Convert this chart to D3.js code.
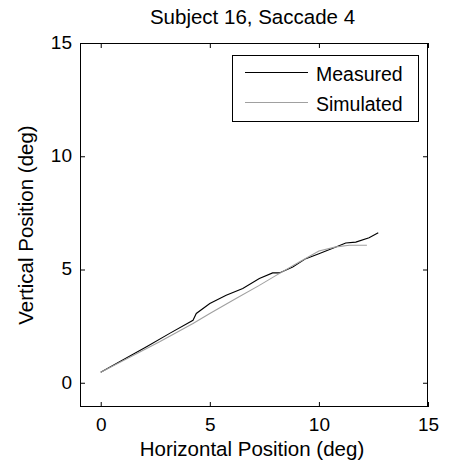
<!DOCTYPE html>
<html><head><meta charset="utf-8">
<script src="https://cdn.jsdelivr.net/npm/d3@7"></script>
<style>body{margin:0;background:#fff}svg{display:block}text{font-family:Arial,"Liberation Sans",Helvetica,sans-serif;}</style>
</head><body><svg id="c" width="452" height="468"></svg>
<script>
const title = "Subject 16, Saccade 4";
const xLabel = "Horizontal Position (deg)";
const yLabel = "Vertical Position (deg)";
const xTicks = [0, 5, 10, 15];
const yTicks = [0, 5, 10, 15];
const seriesNames = ["Measured", "Simulated"];
const measuredX = [0, 2.1, 3.16, 4.23, 4.38, 5.0, 5.75, 6.51, 7.27, 7.88, 8.19, 8.8, 9.4, 10.0, 10.78, 11.23, 11.69, 12.3, 12.72];
const measuredY = [0.46, 1.59, 2.18, 2.76, 3.06, 3.5, 3.86, 4.16, 4.6, 4.85, 4.85, 5.11, 5.48, 5.7, 5.99, 6.17, 6.21, 6.4, 6.62];
const simulatedX = [0, 2.7, 4.23, 5.0, 6.2, 7.27, 8.04, 9.1, 10.0, 10.78, 11.4, 12.2];
const simulatedY = [0.46, 1.81, 2.62, 3.06, 3.72, 4.3, 4.74, 5.33, 5.82, 6.0, 6.07, 6.07];

const svg = d3.select("#c");
const L = 80, R = 428, T = 43, B = 407;
const x = d3.scaleLinear().domain([-0.95, 15]).range([L, R]);
const y = d3.scaleLinear().domain([-1.07, 15]).range([B, T]);

const tl = 5;
const fs = 19;
svg.append("g").attr("transform", `translate(0,${B})`)
  .call(d3.axisBottom(x).tickValues(xTicks).tickSizeInner(-tl).tickSizeOuter(0).tickPadding(11))
  .call(g => { g.select(".domain").remove(); g.selectAll("text").attr("font-size", fs).attr("fill", "#000").attr("font-family", "Arial, Liberation Sans, sans-serif"); });
svg.append("g").attr("transform", `translate(0,${T})`)
  .call(d3.axisTop(x).tickValues(xTicks).tickSizeInner(-tl).tickSizeOuter(0).tickFormat(""))
  .call(g => g.select(".domain").remove());
svg.append("g").attr("transform", `translate(${L},0)`)
  .call(d3.axisLeft(y).tickValues(yTicks).tickSizeInner(-tl).tickSizeOuter(0).tickPadding(8))
  .call(g => { g.select(".domain").remove(); g.selectAll("text").attr("font-size", fs).attr("fill", "#000").attr("dy", "0.28em").attr("font-family", "Arial, Liberation Sans, sans-serif"); });
svg.append("g").attr("transform", `translate(${R},0)`)
  .call(d3.axisRight(y).tickValues(yTicks).tickSizeInner(-tl).tickSizeOuter(0).tickFormat(""))
  .call(g => g.select(".domain").remove());
svg.selectAll(".tick line").attr("stroke", "#000");

svg.append("rect").attr("x", L + 0.5).attr("y", T + 0.5).attr("width", R - L - 1).attr("height", B - T - 1)
  .attr("fill", "none").attr("stroke", "#000").attr("stroke-width", 1);

const line = d3.line().x(d => x(d[0])).y(d => y(d[1]));
const meas = measuredX.map((v, i) => [v, measuredY[i]]);
const sim = simulatedX.map((v, i) => [v, simulatedY[i]]);
svg.append("path").attr("d", line(meas)).attr("fill", "none").attr("stroke", "#000").attr("stroke-width", 1.1);
svg.append("path").attr("d", line(sim)).attr("fill", "none").attr("stroke", "#a0a0a0").attr("stroke-width", 1.1);

// title and labels
svg.append("text").attr("x", 252.5).attr("y", 24).attr("text-anchor", "middle").attr("font-size", 20.5).text(title);
svg.append("text").attr("x", 252).attr("y", 456).attr("text-anchor", "middle").attr("font-size", 20.5).text(xLabel);
svg.append("text").attr("transform", `translate(33,${(T + B) / 2}) rotate(-90)`).attr("text-anchor", "middle").attr("font-size", 20.5).text(yLabel);

// legend
const lg = svg.append("g");
lg.append("rect").attr("x", 232.5).attr("y", 55.5).attr("width", 186).attr("height", 66).attr("fill", "#fff").attr("stroke", "#000");
const colors = ["#000", "#a0a0a0"];
seriesNames.forEach((n, i) => {
  const yy = 72.5 + i * 30;
  lg.append("line").attr("x1", 245).attr("x2", 308).attr("y1", yy).attr("y2", yy).attr("stroke", colors[i]).attr("stroke-width", 1.1);
  lg.append("text").attr("x", 316).attr("y", yy + 8.5).attr("font-size", 19.5).text(n);
});
</script></body></html>
